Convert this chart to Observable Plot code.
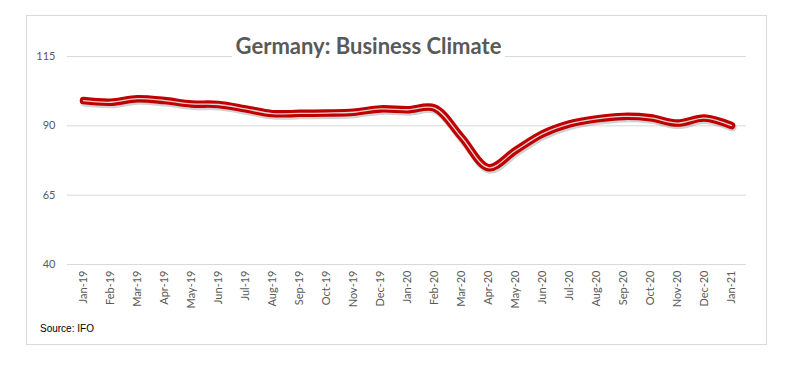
<!DOCTYPE html>
<html>
<head>
<meta charset="utf-8">
<script src="https://cdn.jsdelivr.net/npm/d3@7"></script>
<script src="https://cdn.jsdelivr.net/npm/@observablehq/plot@0.6"></script>
<style>
  html, body { margin: 0; padding: 0; background: #fff; }
  #wrap { position: relative; width: 792px; height: 366px; overflow: hidden; }
  #frame { position: absolute; left: 26px; top: 15px; width: 739px; height: 328px; border: 1px solid #d9d9d9; pointer-events: none; }
  #title { position: absolute; left: 0; width: 737px; top: 32px; text-align: center; font-family: Lato, "Open Sans", sans-serif; font-weight: bold; font-size: 22px; color: #595959; line-height: 28px; }
  #title span { background: #fff; padding: 0 4px; }
  #source { position: absolute; left: 40px; top: 323px; font-family: "Liberation Sans", Arial, sans-serif; font-size: 10px; color: #000; }
  svg { position: absolute; left: 0; top: 0; }
</style>
</head>
<body>
<div id="wrap">
  <div id="chart"></div>
  <div id="title"><span>Germany: Business Climate</span></div>
  <div id="source">Source: IFO</div>
  <div id="frame"></div>
</div>
<script>
const months = ["Jan-19","Feb-19","Mar-19","Apr-19","May-19","Jun-19","Jul-19","Aug-19","Sep-19","Oct-19","Nov-19","Dec-19",
                "Jan-20","Feb-20","Mar-20","Apr-20","May-20","Jun-20","Jul-20","Aug-20","Sep-20","Oct-20","Nov-20","Dec-20","Jan-21"];
const values = [99.1, 98.5, 99.8, 99.1, 97.9, 97.7, 96.1, 94.4, 94.5, 94.6, 94.9, 96.1,
                95.8, 96.4, 85.9, 74.9, 81.1, 87.1, 90.7, 92.5, 93.4, 92.9, 91.0, 92.8, 90.1];
const yTicks = [40, 65, 90, 115];

const data = months.map((m, i) => ({month: m, value: values[i]}));

const chart = Plot.plot({
  width: 792,
  height: 366,
  marginLeft: 67,
  marginRight: 46,
  marginTop: 56,
  marginBottom: 102,
  style: { fontFamily: "Lato, 'Open Sans', sans-serif", fontSize: "11px", color: "#595959", background: "transparent" },
  x: { type: "point", domain: months, padding: 0.5, label: null },
  y: { domain: [40, 115], ticks: yTicks, label: null },
  marks: [
    Plot.ruleY(yTicks, { stroke: "#d9d9d9", strokeWidth: 1 }),
    Plot.axisY({ ticks: yTicks, tickSize: 0, tickPadding: 12, fontSize: 11, fill: "#595959" }),
    Plot.axisX({ tickSize: 0, tickRotate: -90, tickPadding: 6, fontSize: 11, fill: "#595959" }),
    Plot.line(data, { x: "month", y: "value", curve: "catmull-rom", stroke: "#7f7f7f", strokeOpacity: 0.35, strokeWidth: 8, dy: 2, dx: 1 }),
    Plot.line(data, { x: "month", y: "value", curve: "catmull-rom", stroke: "#c00000", strokeWidth: 7.5, strokeLinecap: "round", strokeLinejoin: "round" }),
    Plot.line(data, { x: "month", y: "value", curve: "catmull-rom", stroke: "#e2d2d2", strokeWidth: 1.3 })
  ]
});
document.getElementById("chart").appendChild(chart);
</script>
</body>
</html>
